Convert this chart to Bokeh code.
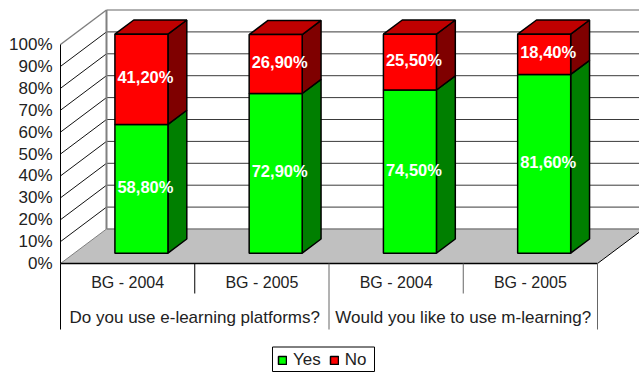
from bokeh.plotting import figure
from bokeh.models import (ColumnDataSource, FixedTicker, Legend, LegendItem,
                          LinearAxis, Range1d)
from bokeh.embed import file_html
from bokeh.resources import INLINE
from bokeh.core.properties import value

# Survey results, percent of respondents
years = ["BG - 2004", "BG - 2005", "BG - 2004", "BG - 2005"]
questions = ["Do you use e-learning platforms?", "Would you like to use m-learning?"]
yes = [58.8, 72.9, 74.5, 81.6]
no = [41.2, 26.9, 25.5, 18.4]
yes_labels = ["58,80%", "72,90%", "74,50%", "81,60%"]
no_labels = ["41,20%", "26,90%", "25,50%", "18,40%"]
tick_values = [0, 10, 20, 30, 40, 50, 60, 70, 80, 90, 100]

WIDTH, HEIGHT = 639, 372
LEFT, BASE = 60, 263          # screen position of the front 0% corner
CAT_W = 134.25                # category width, px
Y_PX = 2.19                   # px per percentage point
DEPTH_X, DEPTH_Y = 46, 34.5   # oblique offset of the back wall, px
BAR_W = 0.395                 # bar width in category units
D_FRONT, D_BACK = 0.30, 0.71  # bar depth extent, 0 = front plane, 1 = back wall
N = len(years)
FONT = "Liberation Sans"
TEXT = "#222222"


def px(x, d):
    """Oblique projection: category position and depth to the plotted x."""
    return x + d * DEPTH_X / CAT_W


def py(y, d):
    """Oblique projection: percentage and depth to the plotted y."""
    return y + d * DEPTH_Y / Y_PX


def poly(points):
    return [px(x, d) for x, y, d in points], [py(y, d) for x, y, d in points]


p = figure(
    width=WIDTH, height=HEIGHT, output_backend="svg", toolbar_location=None,
    x_axis_location=None, y_axis_location=None, min_border=0,
    outline_line_color=None, background_fill_color="white",
    x_range=Range1d(-LEFT / CAT_W, (WIDTH - LEFT) / CAT_W),
    y_range=Range1d(-(HEIGHT - BASE) / Y_PX, BASE / Y_PX),
)
p.grid.visible = False

XR = (WIDTH + 20 - LEFT) / CAT_W   # walls run past the right edge of the page

# Floor
fx, fy = poly([(0, 0, 0), (N, 0, 0), (N, 0, 1), (0, 0, 1)])
fx2, fy2 = poly([(N, 0, 0), (N, 0, 1)])
p.patch(fx, fy, fill_color="#C0C0C0", line_color=None)
p.line(*poly([(0, 0, 1), (XR, 0, 1)]), line_color="#808080", line_width=1.5)
p.line(*poly([(0, 0, 0), (0, 0, 1)]), line_color="#808080", line_width=1)
p.line(fx2, fy2, line_color="black", line_width=1)

# Back wall grid and left wall lines
for t in tick_values[1:-1]:
    p.line(*poly([(0, t, 0), (0, t, 1)]), line_color="#111111", line_width=1)
    p.line(*poly([(0, t, 1), (XR, t, 1)]), line_color="#3a3a3a", line_width=1)
p.line(*poly([(0, 100, 0), (0, 100, 1)]), line_color="#808080", line_width=1.5)
p.line(*poly([(0, 100, 1), (XR, 100, 1)]), line_color="#999999", line_width=1.5)
p.line(*poly([(0, 0, 1), (0, 100, 1)]), line_color="#808080", line_width=2)


def stack_faces(i, lo, hi):
    x0 = i + 0.5 - BAR_W / 2
    x1 = i + 0.5 + BAR_W / 2
    front = poly([(x0, lo, D_FRONT), (x1, lo, D_FRONT), (x1, hi, D_FRONT), (x0, hi, D_FRONT)])
    side = poly([(x1, lo, D_FRONT), (x1, lo, D_BACK), (x1, hi, D_BACK), (x1, hi, D_FRONT)])
    top = poly([(x0, hi, D_FRONT), (x1, hi, D_FRONT), (x1, hi, D_BACK), (x0, hi, D_BACK)])
    return front, side, top


# Stacked 3-D columns
green_r = red_r = None
for i in range(N):
    gf, gs, gt = stack_faces(i, 0, yes[i])
    rf, rs, rt = stack_faces(i, yes[i], yes[i] + no[i])
    edge = dict(line_color="black", line_width=1.5)
    p.patch(*gs, fill_color="#007F00", **edge)
    p.patch(*rs, fill_color="#7F0000", **edge)
    p.patch(*rt, fill_color="#BF0000", **edge)
    gr = p.patch(*gf, fill_color="#00FF00", **edge)
    rr = p.patch(*rf, fill_color="#FF0000", **edge)
    green_r, red_r = green_r or gr, red_r or rr

# Value labels in the middle of each front face
lab_x, lab_y, lab_t = [], [], []
for i in range(N):
    lab_x += [px(i + 0.5, D_FRONT)] * 2
    lab_y += [py(yes[i] / 2, D_FRONT), py(yes[i] + no[i] / 2, D_FRONT)]
    lab_t += [yes_labels[i], no_labels[i]]
p.text(x="x", y="y", text="t", source=ColumnDataSource(dict(x=lab_x, y=lab_y, t=lab_t)),
       text_color="white", text_font=value(FONT), text_font_style="bold",
       text_font_size="16.5px", text_align="center", text_baseline="middle",
       x_offset=4, y_offset=-2)

# Value axis
axis = LinearAxis(fixed_location=0, bounds=(0, 100), ticker=FixedTicker(ticks=tick_values),
                  major_label_overrides={t: f"{t}%" for t in tick_values})
axis.axis_line_color = "black"
axis.major_tick_line_color = "black"
axis.major_tick_in = 0
axis.major_tick_out = 0
axis.minor_tick_line_color = None
axis.major_label_standoff = 8
axis.major_label_text_font = FONT
axis.major_label_text_font_size = "17px"
axis.major_label_text_color = TEXT
p.add_layout(axis, "left")

# Two-level category axis
ROW1, ROW2 = -30 / Y_PX, -66 / Y_PX
p.line([0, N], [0, 0], line_color="black", line_width=1.5)
p.segment(x0=[0, 2, 4], y0=[0] * 3, x1=[0, 2, 4], y1=[ROW2] * 3,
          line_color=["black", "#666666", "#666666"], line_width=1)
p.segment(x0=[1, 3], y0=[0] * 2, x1=[1, 3], y1=[ROW1] * 2,
          line_color=["black", "#666666"], line_width=1)
p.text(x=[i + 0.5 for i in range(N)], y=[-18.5 / Y_PX] * N, text=years,
       text_color=TEXT, text_font=value(FONT), text_font_size="16px",
       text_align="center", text_baseline="middle")
p.text(x=[1, 3], y=[-53.5 / Y_PX] * 2, text=questions,
       text_color=TEXT, text_font=value(FONT), text_font_size="17px",
       text_align="center", text_baseline="middle")

# Series key: a framed box with the legend laid inside it
box_l, box_r = (272 - LEFT) / CAT_W, (374 - LEFT) / CAT_W
box_t, box_b = (BASE - 346.5) / Y_PX, (BASE - 371) / Y_PX
p.quad(left=box_l, right=box_r, top=box_t, bottom=box_b,
       fill_color="white", line_color="black", line_width=1)
legend = Legend(
    items=[LegendItem(label="Yes", renderers=[green_r]), LegendItem(label="No", renderers=[red_r])],
    orientation="horizontal", location=(277, 2),
    border_line_color=None, background_fill_alpha=0, label_text_font=FONT,
    label_text_font_size="17px", label_text_color=TEXT,
    glyph_width=10, glyph_height=10, label_standoff=6, spacing=8,
    padding=2, margin=0,
)
p.add_layout(legend, "center")

open("out.html", "w").write(file_html(p, INLINE))
